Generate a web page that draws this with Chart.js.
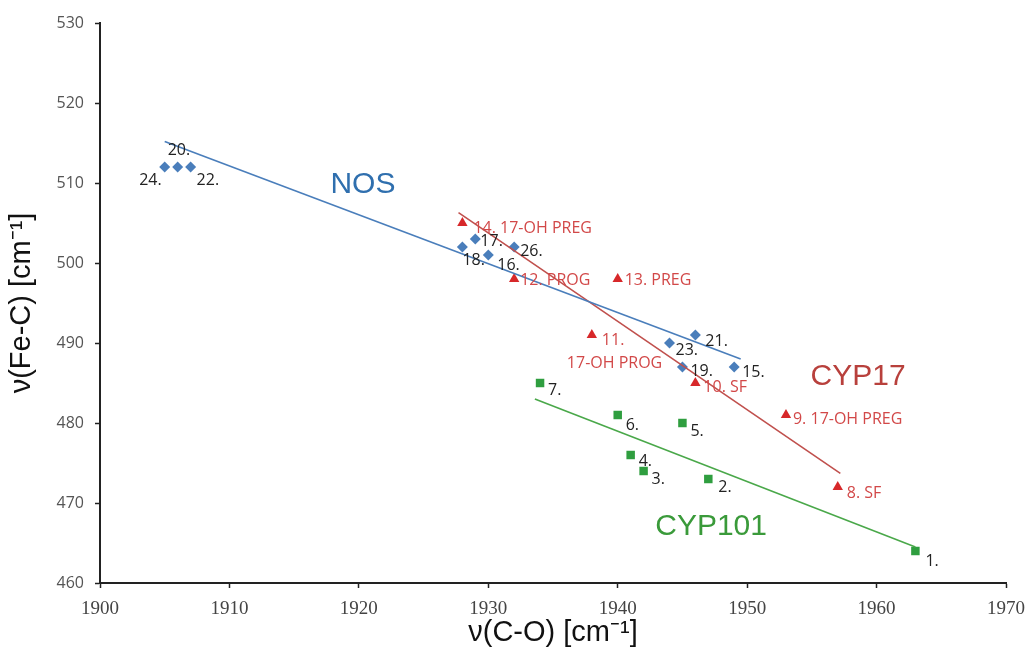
<!DOCTYPE html>
<html><head><meta charset="utf-8">
<script src="https://cdn.jsdelivr.net/npm/chart.js@4/dist/chart.umd.min.js"></script>
<style>html,body{margin:0;padding:0;background:#fff}#wrap{width:1027px;height:648px;position:relative}</style>
</head><body><div id="wrap"><canvas id="c"></canvas></div>
<script>
// ---- data ----
const nosX = [1949, 1930, 1929, 1928, 1945, 1906, 1946, 1907, 1944, 1905, 1932];
const nosY = [487, 501, 503, 502, 487, 512, 491, 512, 490, 512, 502];
const nosLabels = ['15.', '16.', '17.', '18.', '19.', '20.', '21.', '22.', '23.', '24.', '26.'];

const cyp17X = [1957, 1953, 1946, 1938, 1932, 1940, 1928];
const cyp17Y = [472, 481, 485, 491, 498, 498, 505];
const cyp17Labels = [['8. SF'], ['9. 17-OH PREG'], ['10. SF'], ['11.', '17-OH PROG'], ['12. PROG'], ['13. PREG'], ['14. 17-OH PREG']];

const cyp101X = [1963, 1947, 1942, 1941, 1945, 1940, 1934];
const cyp101Y = [464, 473, 474, 476, 480, 481, 485];
const cyp101Labels = ['1.', '2.', '3.', '4.', '5.', '6.', '7.'];

// trend line end points
const nosTrendX = [1905, 1949.5];
const nosTrendY = [515.2, 488];
const cyp17TrendX = [1927.7, 1957.2];
const cyp17TrendY = [506.3, 473.7];
const cyp101TrendX = [1933.6, 1963];
const cyp101TrendY = [483, 464.5];

const xTicks = [1900, 1910, 1920, 1930, 1940, 1950, 1960, 1970];
const yTicks = [460, 470, 480, 490, 500, 510, 520, 530];

const groupNames = ['NOS', 'CYP17', 'CYP101'];
const groupNameX = [1917.8, 1954.9, 1942.9];
const groupNameY = [509.8, 485.8, 467.0];

// ---- styles / label placement (pixels) ----
const nosOffsets = [[8,5,'left'],[9,10,'left'],[5,2,'left'],[0,13,'left'],[8,4,'left'],[-10,-17,'left'],[10,6,'left'],[6,13,'left'],[6,7,'left'],[-3,13,'right'],[6,4,'left']];
const cyp17Offsets = [[9,6,'left'],[7,4,'left'],[8,4,'left'],[10,5,'left',-25,28],[6,1,'left'],[7,1,'left'],[11,5,'left']];
const cyp101Offsets = [[10,10,'left'],[10,8,'left'],[8,8,'left'],[8,6,'left'],[8,8,'left'],[8,10,'left'],[8,7,'left']];
const groupColors = ['#2f6fae', '#b8403c', '#3a9a3a'];

const toPts = (xs, ys) => xs.map((x, i) => ({x: x, y: ys[i]}));

const labelPlugin = {
  id: 'pointLabels',
  afterDatasetsDraw(chart) {
    const ctx = chart.ctx;
    const xs = chart.scales.x, ys = chart.scales.y;
    ctx.save();
    ctx.textBaseline = 'middle';
    chart.data.datasets.forEach((ds, di) => {
      if (!ds.pointText) return;
      const meta = chart.getDatasetMeta(di);
      ctx.font = '16px "Open Sans", sans-serif';
      ctx.fillStyle = ds.textColor;
      meta.data.forEach((el, i) => {
        const off = ds.textOffsets[i];
        const txt = ds.pointText[i];
        const lines = Array.isArray(txt) ? txt : [txt];
        ctx.textAlign = off[2];
        ctx.fillText(lines[0], el.x + off[0], el.y + off[1]);
        if (lines.length > 1) {
          ctx.textAlign = 'left';
          ctx.fillText(lines[1], el.x + off[3], el.y + off[4]);
        }
      });
    });
    ctx.font = '30px "Liberation Sans", Arial, sans-serif';
    ctx.textAlign = 'left';
    groupNames.forEach((n, i) => {
      ctx.fillStyle = groupColors[i];
      ctx.fillText(n, xs.getPixelForValue(groupNameX[i]), ys.getPixelForValue(groupNameY[i]));
    });
    ctx.restore();
  }
};

new Chart(document.getElementById('c'), {
  type: 'scatter',
  data: {
    datasets: [
      {label: 'NOS trend', type: 'line', data: toPts(nosTrendX, nosTrendY), borderColor: '#4a7ebb', borderWidth: 1.6, pointRadius: 0, fill: false},
      {label: 'CYP17 trend', type: 'line', data: toPts(cyp17TrendX, cyp17TrendY), borderColor: '#c0504d', borderWidth: 1.6, pointRadius: 0, fill: false},
      {label: 'CYP101 trend', type: 'line', data: toPts(cyp101TrendX, cyp101TrendY), borderColor: '#4aa84a', borderWidth: 1.6, pointRadius: 0, fill: false},
      {label: 'NOS', data: toPts(nosX, nosY), pointStyle: 'rectRot', pointRadius: 5.5, backgroundColor: '#4a7ebb', borderColor: '#4a7ebb', borderWidth: 0,
        pointText: nosLabels, textOffsets: nosOffsets, textColor: '#222'},
      {label: 'CYP17', data: toPts(cyp17X, cyp17Y), pointStyle: 'triangle', pointRadius: 6, backgroundColor: '#d7282a', borderColor: '#d7282a', borderWidth: 0,
        pointText: cyp17Labels, textOffsets: cyp17Offsets, textColor: '#d24848'},
      {label: 'CYP101', data: toPts(cyp101X, cyp101Y), pointStyle: 'rect', pointRadius: 6, backgroundColor: '#2f9e3f', borderColor: '#2f9e3f', borderWidth: 0,
        pointText: cyp101Labels, textOffsets: cyp101Offsets, textColor: '#222'}
    ]
  },
  options: {
    responsive: true,
    maintainAspectRatio: false,
    animation: false,
    events: [],
    layout: {padding: {top: 23, right: 21, bottom: 0, left: 0}},
    plugins: {legend: {display: false}, tooltip: {enabled: false}},
    scales: {
      x: {
        type: 'linear', min: 1900, max: 1970,
        afterBuildTicks: (s) => { s.ticks = xTicks.map(v => ({value: v})); },
        afterFit: (s) => { s.height = 65; s.paddingLeft = 0; s.paddingRight = 0; },
        border: {display: true, color: '#222', width: 2},
        grid: {display: true, drawOnChartArea: false, drawTicks: true, tickLength: 5, tickColor: '#222', tickWidth: 1.5},
        ticks: {color: '#444', padding: 10, font: {family: '"Liberation Serif", serif', size: 19}, maxRotation: 0, callback: (v) => String(v)},
        title: {display: true, text: 'ν(C-O) [cm⁻¹]', color: '#111', font: {family: '"Liberation Sans", Arial, sans-serif', size: 29, lineHeight: 1}, padding: {top: 0, bottom: 1}}
      },
      y: {
        type: 'linear', min: 460, max: 530,
        afterBuildTicks: (s) => { s.ticks = yTicks.map(v => ({value: v})); },
        afterFit: (s) => { s.width = 100; s.paddingTop = 0; s.paddingBottom = 0; },
        border: {display: true, color: '#222', width: 2},
        grid: {display: true, drawOnChartArea: false, drawTicks: true, tickLength: 5, tickColor: '#222', tickWidth: 1.5},
        ticks: {color: '#555', padding: 11, font: {family: '"Open Sans", sans-serif', size: 16}, callback: (v) => String(v)},
        title: {display: true, text: 'ν(Fe-C) [cm⁻¹]', color: '#111', font: {family: '"Liberation Sans", Arial, sans-serif', size: 29, lineHeight: 1}, padding: {top: 7, bottom: 0}}
      }
    }
  },
  plugins: [labelPlugin]
});
</script>
</body></html>
